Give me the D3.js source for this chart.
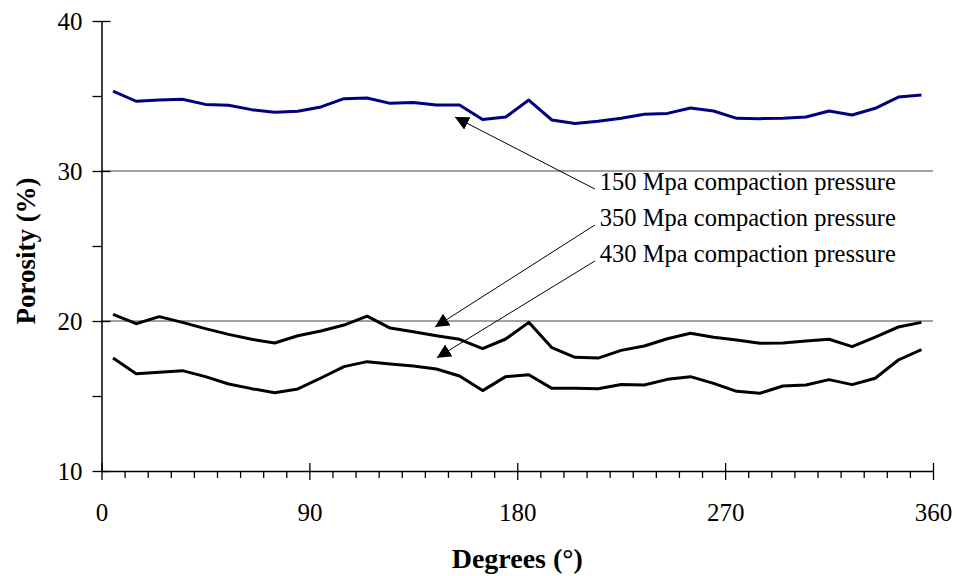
<!DOCTYPE html>
<html>
<head>
<meta charset="utf-8">
<script src="https://cdn.jsdelivr.net/npm/d3@7"></script>
<style>
  html, body { margin: 0; padding: 0; background: #fff; }
  svg { display: block; }
  svg text { font-family: "Liberation Serif", "Times New Roman", serif; }
</style>
</head>
<body>
<div id="chart"></div>
<script>
/* Porosity vs angular position, three compaction pressures */

const degrees = [5, 15, 25, 35, 45, 55, 65, 75, 85, 95, 105, 115, 125, 135, 145, 155, 165, 175,
                 185, 195, 205, 215, 225, 235, 245, 255, 265, 275, 285, 295, 305, 315, 325, 335, 345, 355];

const p150 = [35.33, 34.65, 34.73, 34.78, 34.44, 34.38, 34.09, 33.91, 33.98, 34.27, 34.82, 34.87,
              34.51, 34.56, 34.40, 34.40, 33.44, 33.60, 34.73, 33.40, 33.16, 33.31, 33.52, 33.78,
              33.84, 34.20, 34.00, 33.51, 33.49, 33.51, 33.60, 34.00, 33.73, 34.18, 34.93, 35.07];

const p350 = [20.44, 19.82, 20.29, 19.91, 19.49, 19.11, 18.78, 18.53, 19.02, 19.33, 19.73, 20.33,
              19.53, 19.29, 19.02, 18.78, 18.16, 18.80, 19.91, 18.22, 17.58, 17.53, 18.04, 18.33,
              18.82, 19.18, 18.91, 18.73, 18.51, 18.53, 18.67, 18.78, 18.29, 18.93, 19.60, 19.91];

const p430 = [17.53, 16.49, 16.58, 16.69, 16.29, 15.80, 15.49, 15.22, 15.47, 16.20, 16.96, 17.29,
              17.13, 17.00, 16.80, 16.33, 15.36, 16.29, 16.42, 15.51, 15.51, 15.49, 15.76, 15.73,
              16.11, 16.29, 15.84, 15.31, 15.18, 15.67, 15.73, 16.09, 15.76, 16.18, 17.40, 18.09];

const xTicks = [0, 90, 180, 270, 360];
const yTicks = [10, 20, 30, 40];
const yGrid  = [20, 30];

/* label text, arrow tip (deg, %) and arrow tail (deg, %) */
const labels   = ['150 Mpa compaction pressure', '350 Mpa compaction pressure', '430 Mpa compaction pressure'];
const tipDeg   = [153, 144.4, 145.2];
const tipPor   = [33.6, 19.6, 17.55];
const tailDeg  = [213.6, 213.6, 213.6];
const tailPor  = [28.8, 26.4, 24.0];

const W = 957, H = 576;
const margin = { top: 21, right: 24, bottom: 105, left: 101.5 };
const serif = '"Liberation Serif", "Times New Roman", serif';

const svg = d3.select('#chart').append('svg')
  .attr('width', W).attr('height', H);

const x = d3.scaleLinear().domain([0, 360]).range([margin.left, W - margin.right]);
const y = d3.scaleLinear().domain([10, 40]).range([H - margin.bottom, margin.top]);

/* grid */
svg.append('g')
  .selectAll('line')
  .data(yGrid)
  .join('line')
  .attr('x1', x(0)).attr('x2', x(360))
  .attr('y1', d => y(d)).attr('y2', d => y(d))
  .attr('stroke', '#444').attr('stroke-width', 1);

/* x axis: minor ticks every 10 deg, major ticks cross the axis */
const xAxis = svg.append('g')
  .attr('transform', `translate(0,${y(10)})`)
  .call(d3.axisBottom(x).tickValues(d3.range(0, 361, 10)).tickSize(7).tickFormat('').tickSizeOuter(0));
xAxis.select('.domain').attr('stroke', '#000').attr('stroke-width', 1.5);
xAxis.selectAll('.tick line')
  .attr('stroke', '#000').attr('stroke-width', 1.3)
  .attr('y1', d => xTicks.includes(d) ? -8 : 0)
  .attr('y2', d => xTicks.includes(d) ? 9 : 7);

const xLab = svg.append('g')
  .attr('transform', `translate(0,${y(10)})`)
  .call(d3.axisBottom(x).tickValues(xTicks).tickSize(0).tickPadding(50).tickFormat(d3.format('d')))
  .attr('font-family', serif);
xLab.select('.domain').remove();
xLab.selectAll('text')
  .style('font-family', serif)
  .attr('font-size', 25).attr('dy', 0).attr('fill', '#000');

/* y axis: minor ticks every 5, major ticks cross the axis */
const yAxis = svg.append('g')
  .attr('transform', `translate(${x(0)},0)`)
  .call(d3.axisLeft(y).tickValues(d3.range(10, 41, 5)).tickSize(9).tickFormat('').tickSizeOuter(0));
yAxis.select('.domain').attr('stroke', '#000').attr('stroke-width', 1.5);
yAxis.selectAll('.tick line')
  .attr('stroke', '#000').attr('stroke-width', 1.3)
  .attr('x1', d => yTicks.includes(d) ? 9 : 0)
  .attr('x2', -9);

const yLab = svg.append('g')
  .attr('transform', `translate(${x(0)},0)`)
  .call(d3.axisLeft(y).tickValues(yTicks).tickSize(0).tickPadding(19).tickFormat(d3.format('d')))
  .attr('font-family', serif);
yLab.select('.domain').remove();
yLab.selectAll('text')
  .style('font-family', serif)
  .attr('font-size', 25).attr('dy', '0.34em').attr('fill', '#000');

/* series */
const line = d3.line()
  .x((d, i) => x(degrees[i]))
  .y(d => y(d));

[[p150, '#000080'], [p350, '#000'], [p430, '#000']].forEach(([vals, col]) => {
  svg.append('path')
    .datum(vals)
    .attr('d', line)
    .attr('fill', 'none')
    .attr('stroke', col)
    .attr('stroke-width', 3)
    .attr('stroke-linejoin', 'round');
});

/* annotation arrows */
svg.append('defs').append('marker')
  .attr('id', 'arrow')
  .attr('viewBox', '0 0 10 10')
  .attr('refX', 10).attr('refY', 5)
  .attr('markerWidth', 14).attr('markerHeight', 14)
  .attr('markerUnits', 'userSpaceOnUse')
  .attr('orient', 'auto')
  .append('path')
  .attr('d', 'M0,0 L10,5 L0,10 Z')
  .attr('fill', '#000');

const ann = svg.append('g');
labels.forEach((lab, i) => {
  ann.append('line')
    .attr('x1', x(tailDeg[i])).attr('y1', y(tailPor[i]))
    .attr('x2', x(tipDeg[i])).attr('y2', y(tipPor[i]))
    .attr('stroke', '#000').attr('stroke-width', 1)
    .attr('marker-end', 'url(#arrow)');
  ann.append('text')
    .attr('x', x(tailDeg[i]) + 5)
    .attr('y', y(tailPor[i]) + 1)
    .attr('font-size', 24.5)
    .attr('fill', '#000')
    .text(lab);
});

/* axis titles */
svg.append('text')
  .attr('x', (x(0) + x(360)) / 2)
  .attr('y', 568)
  .attr('text-anchor', 'middle')
  .attr('font-size', 28)
  .attr('font-weight', 'bold')
  .text('Degrees (°)');

svg.append('text')
  .attr('transform', `translate(35,${(y(10) + y(40)) / 2 + 5}) rotate(-90)`)
  .attr('text-anchor', 'middle')
  .attr('font-size', 27)
  .attr('font-weight', 'bold')
  .text('Porosity (%)');
</script>
</body>
</html>
